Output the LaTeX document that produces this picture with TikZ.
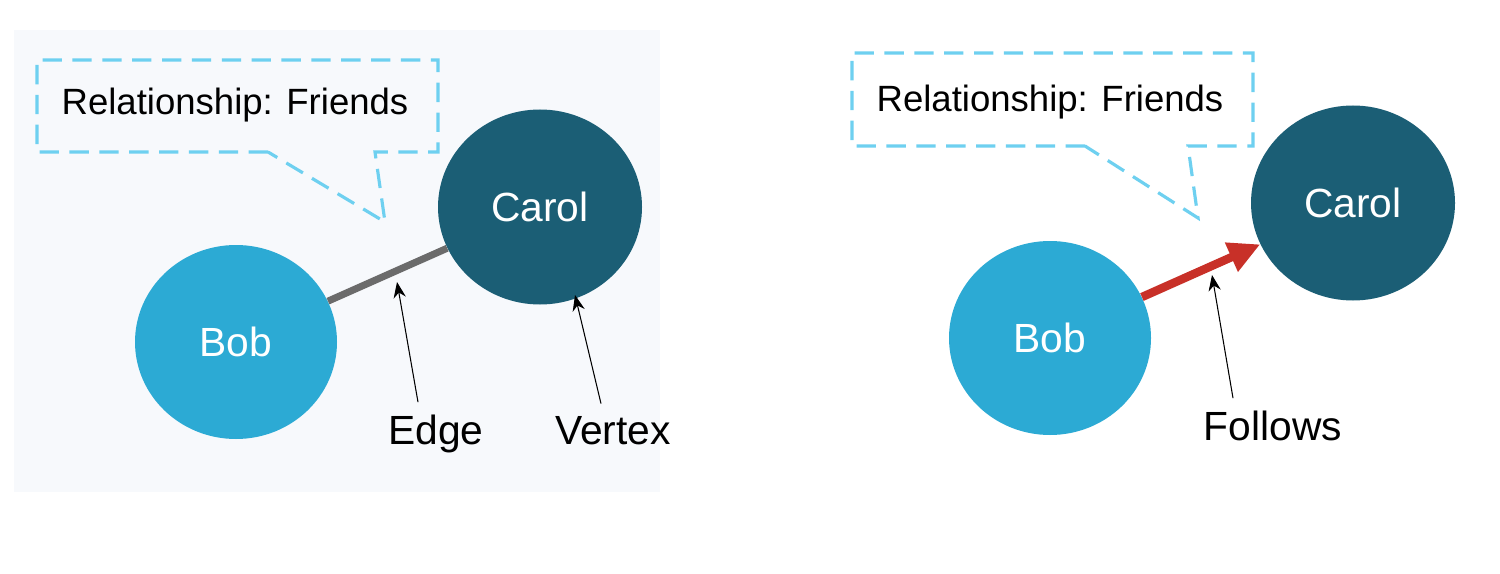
\documentclass[tikz,border=0pt]{standalone}
\usepackage{fontspec}
\setmainfont{Liberation Sans}
\usetikzlibrary{arrows.meta,shapes.geometric}
\definecolor{bobc}{RGB}{44,170,212}
\definecolor{carolc}{RGB}{27,94,117}
\definecolor{callc}{RGB}{110,208,240}
\definecolor{edgec}{RGB}{107,107,107}
\definecolor{redc}{RGB}{200,48,40}
\definecolor{panelc}{RGB}{247,249,252}
\tikzset{
  px/.style={x=0.02cm,y=-0.02cm},
  bobnode/.style={ellipse, fill=bobc, minimum width=202*0.02cm, minimum height=194*0.02cm, inner sep=0pt, text=white, font=\fontsize{23.2}{26}\selectfont},
  carolnode/.style={ellipse, fill=carolc, minimum width=204*0.02cm, minimum height=195*0.02cm, inner sep=0pt, text=white, font=\fontsize{23.2}{26}\selectfont},
  lbl/.style={text=black, font=\fontsize{23.2}{26}\selectfont, inner sep=0pt},
  calltext/.style={text=black, font=\fontsize{20.8}{24}\selectfont, inner sep=0pt},
  callout/.style={draw=callc, line width=1.8pt, dash pattern=on 11pt off 6pt},
  pointer/.style={draw=black, line width=0.6pt, -{Stealth[length=9pt,width=7pt]}},
}
\begin{document}
\begin{tikzpicture}[px]
\useasboundingbox (0,0) rectangle (1500,574);
\fill[white] (0,0) rectangle (1500,574);
\fill[panelc] (14,30) rectangle (660,492);
% ---------- left ----------
\node[bobnode] (bob1) at (236,342) {Bob};
\node[carolnode] (carol1) at (540,207) {Carol};
\draw[edgec, line width=4pt] (bob1) -- (carol1);
\draw[callout] (268,152) -- (37,152) -- (37,60) -- (438,60) -- (438,152) -- (375,152) -- (385,222) -- cycle;
\node[calltext] (rel1) at (235,105) {Relationship: Friends};
\node[lbl, anchor=base] (edge1) at (436,444) {Edge};
\node[lbl, anchor=base] (vert1) at (613,444) {Vertex};
\coordinate (edgetip) at (397,282);
\coordinate (verttip) at (575,295);
\draw[pointer] (edge1.north) ++(-18,-12) coordinate (e1s) (e1s) -- (edgetip);
\draw[pointer] (vert1.north) ++(-12,-12) coordinate (v1s) (v1s) -- (verttip);
% ---------- right ----------
\node[bobnode] (bob2) at (1050,338) {Bob};
\node[carolnode] (carol2) at (1353,203) {Carol};
\draw[redc, line width=4.8pt, -{Triangle[length=18pt,width=17pt]}] (bob2) -- (carol2);
\draw[callout] (1085,146) -- (852,146) -- (852,53) -- (1253,53) -- (1253,146) -- (1188,146) -- (1198,218) -- cycle;
\node[calltext] (rel2) at (1050,102) {Relationship: Friends};
\node[lbl, anchor=base] (fol2) at (1273,440) {Follows};
\coordinate (foltip) at (1212,275);
\draw[pointer] (fol2.north) ++(-40,-12) coordinate (f2s) (f2s) -- (foltip);
\end{tikzpicture}
\end{document}
